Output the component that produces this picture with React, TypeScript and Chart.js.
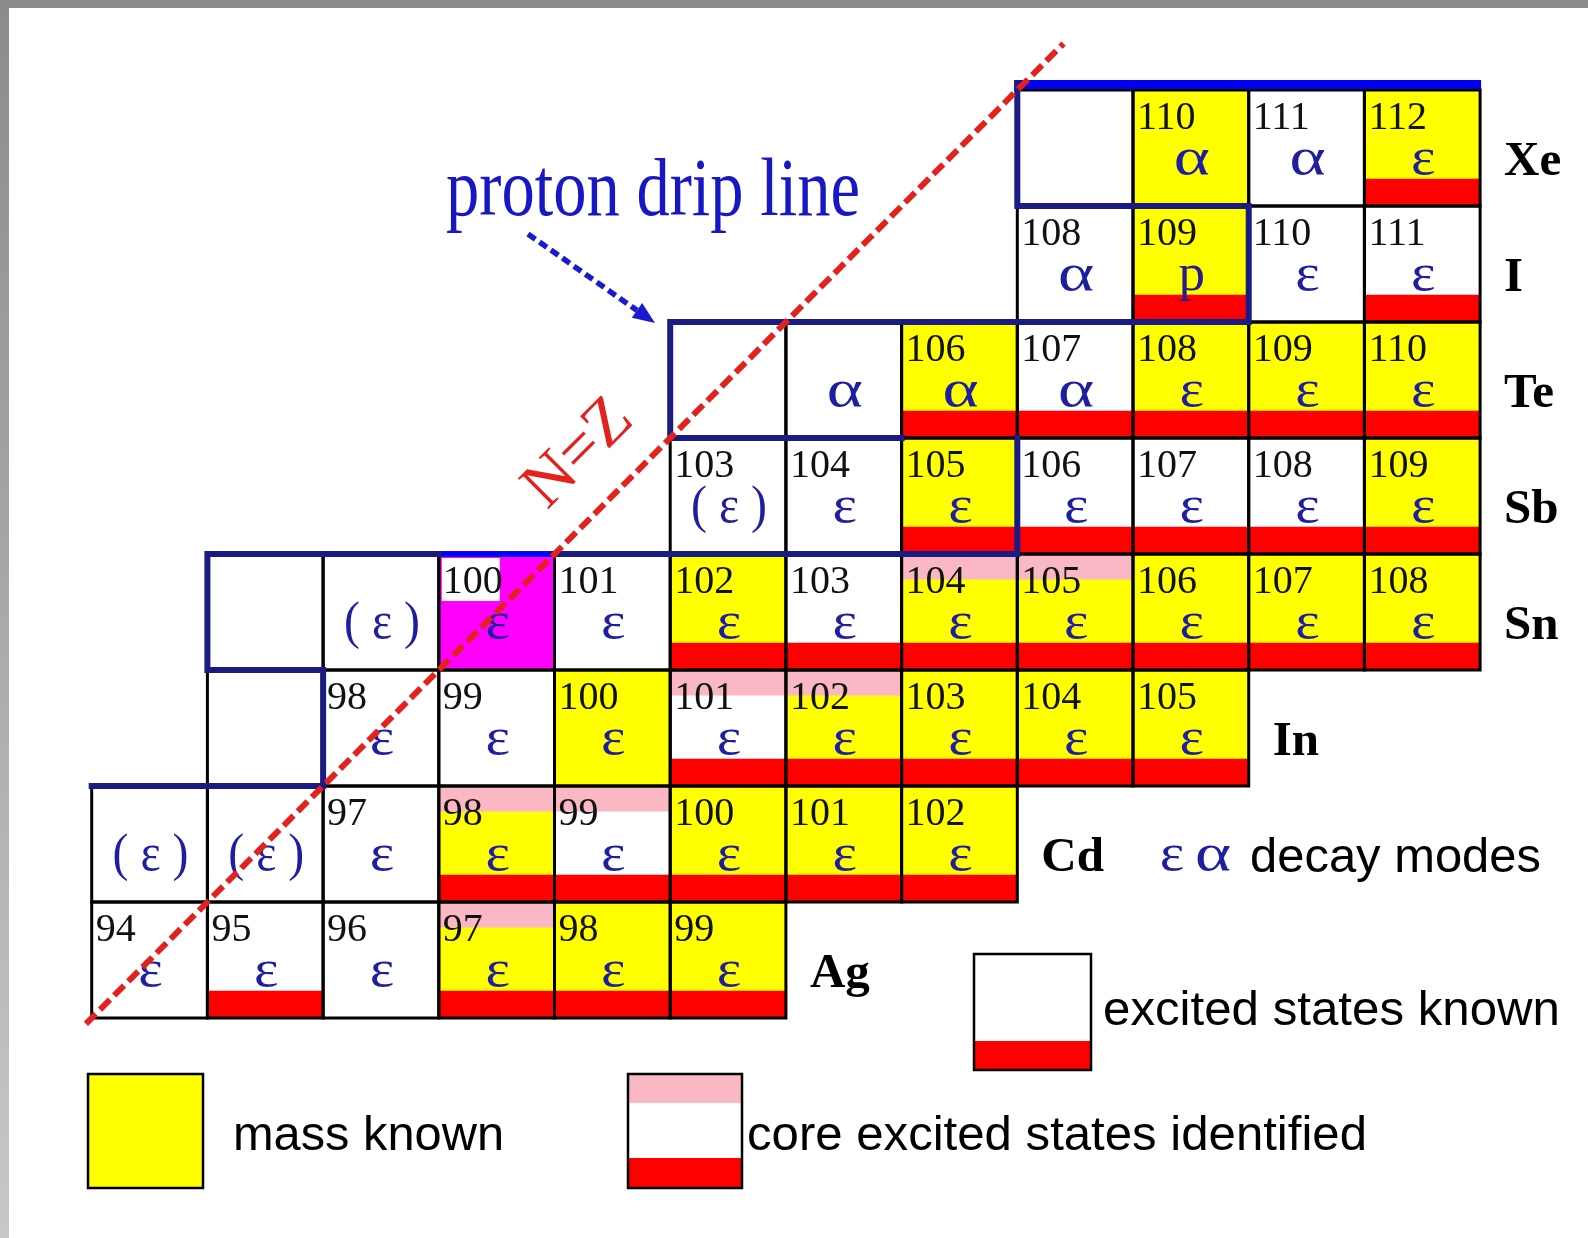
import React, { useEffect, useRef } from "react";
import { Chart, registerables } from "chart.js";

Chart.register(...registerables);

// ---- data -------------------------------------------------------------
// rows: proton number Z (element), columns: neutron number N
const elementSymbols = ["Ag", "Cd", "In", "Sn", "Sb", "Te", "I", "Xe"];
const protonNumbers = [47, 48, 49, 50, 51, 52, 53, 54];
const firstNeutron = [47, 47, 48, 48, 52, 52, 55, 55];

// mass number shown in the cell (null = no label)
const massNumbers: (number | null)[][] = [
  [94, 95, 96, 97, 98, 99],
  [null, null, 97, 98, 99, 100, 101, 102],
  [null, 98, 99, 100, 101, 102, 103, 104, 105],
  [null, null, 100, 101, 102, 103, 104, 105, 106, 107, 108],
  [103, 104, 105, 106, 107, 108, 109],
  [null, null, 106, 107, 108, 109, 110],
  [108, 109, 110, 111],
  [null, 110, 111, 112],
];

// decay mode
const decayModes: string[][] = [
  ["ε", "ε", "ε", "ε", "ε", "ε"],
  ["(ε)", "(ε)", "ε", "ε", "ε", "ε", "ε", "ε"],
  ["", "ε", "ε", "ε", "ε", "ε", "ε", "ε", "ε"],
  ["", "(ε)", "ε", "ε", "ε", "ε", "ε", "ε", "ε", "ε", "ε"],
  ["(ε)", "ε", "ε", "ε", "ε", "ε", "ε"],
  ["", "α", "α", "α", "ε", "ε", "ε"],
  ["α", "p", "ε", "ε"],
  ["", "α", "α", "ε"],
];

// mass known: w = no, y = yes, m = highlighted (100Sn)
const massKnown: string[] = [
  "wwwyyy",
  "wwwywyyy",
  "wwwywyyyy",
  "wwmwywyyyyy",
  "wwywwwy",
  "wwywyyy",
  "wyww",
  "wywy",
];

// excited states known (red bar)
const excitedKnown: number[][] = [
  [0, 1, 0, 1, 1, 1],
  [0, 0, 0, 1, 1, 1, 1, 1],
  [0, 0, 0, 0, 1, 1, 1, 1, 1],
  [0, 0, 0, 0, 1, 1, 1, 1, 1, 1, 1],
  [0, 0, 1, 1, 1, 1, 1],
  [0, 0, 1, 1, 1, 1, 1],
  [0, 1, 0, 1],
  [0, 0, 0, 1],
];

// core excited states identified (pink bar)
const coreExcited: number[][] = [
  [0, 0, 0, 1, 0, 0],
  [0, 0, 0, 1, 1, 0, 0, 0],
  [0, 0, 0, 0, 1, 1, 0, 0, 0],
  [0, 0, 0, 0, 0, 0, 1, 1, 0, 0, 0],
  [0, 0, 0, 0, 0, 0, 0],
  [0, 0, 0, 0, 0, 0, 0],
  [0, 0, 0, 0],
  [0, 0, 0, 0],
];

// N = Z line ends
const nEqualsZ = [46.45, 54.9];

// proton drip line (cell corner coordinates N, Z)
const dripLineParts: number[][][] = [
  [[46.5, 48.5], [48.5, 48.5], [48.5, 49.5], [47.5, 49.5], [47.5, 50.5], [54.5, 50.5], [54.5, 51.5]],
  [[53.5, 51.5], [51.5, 51.5], [51.5, 52.5], [56.5, 52.5], [56.5, 53.5], [54.5, 53.5], [54.5, 54.5]],
];
const dripLineTop = [[54.5, 54.5], [58.5, 54.5]];

// ---- view -------------------------------------------------------------
const X_MIN = 45.7074;
const X_MAX = 59.4325;
const Y_MIN = 44.6035;
const Y_MAX = 55.2759;

const W = 1588;
const H = 1238;

const SERIF = "'Liberation Serif', 'Times New Roman', serif";
const SANS = "'Liberation Sans', Arial, sans-serif";
const SYMBOL_BLUE = "#1e1ea2";
const NAVY = "#1b1b84";

function fitText(ctx: CanvasRenderingContext2D, text: string, x: number, y: number, font: string, width: number, color: string) {
  ctx.save();
  ctx.font = font;
  const m = ctx.measureText(text).width;
  ctx.translate(x, y);
  ctx.scale(width / m, 1);
  ctx.fillStyle = color;
  ctx.textAlign = "left";
  ctx.textBaseline = "alphabetic";
  ctx.fillText(text, 0, 0);
  ctx.restore();
}

function drawSymbol(ctx: CanvasRenderingContext2D, s: string, cx: number, base: number, color: string) {
  ctx.save();
  ctx.font = `53px ${SERIF}`;
  ctx.fillStyle = color;
  ctx.textAlign = "center";
  ctx.textBaseline = "alphabetic";
  ctx.translate(cx, base);
  const sx = s === "α" ? 1.3 : s === "ε" ? 1.1 : 1;
  ctx.scale(sx, 1);
  ctx.fillText(s, 0, 0);
  ctx.restore();
}

const nuclidePlugin = {
  id: "nuclideChart",
  beforeDraw(chart: any) {
    const ctx: CanvasRenderingContext2D = chart.ctx;
    ctx.save();
    ctx.fillStyle = "#ffffff";
    ctx.fillRect(0, 0, W, H);
    const g = ctx.createLinearGradient(0, 0, 0, H);
    g.addColorStop(0, "#8b8b8b");
    g.addColorStop(1, "#c8c8c8");
    ctx.fillStyle = g;
    ctx.fillRect(0, 0, 9, H);
    ctx.fillStyle = "#8b8b8b";
    ctx.fillRect(0, 0, W, 8);
    ctx.restore();
  },
  beforeDatasetsDraw(chart: any) {
    const ctx: CanvasRenderingContext2D = chart.ctx;
    const xs = chart.scales.x;
    const ys = chart.scales.y;
    const px = (v: number) => xs.getPixelForValue(v);
    const py = (v: number) => ys.getPixelForValue(v);
    const cells: any[] = [];
    protonNumbers.forEach((Z, i) => {
      massNumbers[i].forEach((A, j) => {
        const N = firstNeutron[i] + j;
        const l = px(N - 0.5), r = px(N + 0.5), t = py(Z + 0.5), b = py(Z - 0.5);
        cells.push({ l, r, t, b, w: r - l, h: b - t, A, mode: decayModes[i][j], fill: massKnown[i][j], red: excitedKnown[i][j], pink: coreExcited[i][j] });
      });
    });
    ctx.save();
    // fills
    for (const c of cells) {
      ctx.fillStyle = c.fill === "y" ? "#ffff00" : c.fill === "m" ? "#ff00ff" : "#ffffff";
      ctx.fillRect(c.l, c.t, c.w, c.h);
      if (c.fill === "m") {
        ctx.fillStyle = "#ffffff";
        ctx.fillRect(c.l + 3, c.t + 4, 58, 43);
      }
      if (c.pink) {
        ctx.fillStyle = "#f9b8c3";
        ctx.fillRect(c.l, c.t, c.w, c.h * 0.22);
      }
      if (c.red) {
        ctx.fillStyle = "#ff0000";
        ctx.fillRect(c.l, c.b - c.h * 0.235, c.w, c.h * 0.235);
      }
    }
    // borders
    ctx.strokeStyle = "#000000";
    ctx.lineWidth = 3;
    for (const c of cells) ctx.strokeRect(c.l, c.t, c.w, c.h);
    // labels
    for (const c of cells) {
      if (c.A !== null) {
        ctx.font = `40px ${SERIF}`;
        ctx.fillStyle = "#111111";
        ctx.textAlign = "left";
        ctx.textBaseline = "alphabetic";
        ctx.fillText(String(c.A), c.l + 4, c.t + 39);
      }
      if (c.mode) {
        const cx = c.l + c.w / 2 + 1;
        const base = c.t + 84;
        if (c.mode === "(ε)") {
          fitText(ctx, "( ε )", cx - 38, base, `53px ${SERIF}`, 76, SYMBOL_BLUE);
        } else {
          drawSymbol(ctx, c.mode, cx, base, c.mode === "p" ? "#2a1a8e" : SYMBOL_BLUE);
        }
      }
    }
    // element labels
    protonNumbers.forEach((Z, i) => {
      const lastN = firstNeutron[i] + massNumbers[i].length - 1;
      ctx.font = `bold 49px ${SERIF}`;
      ctx.fillStyle = "#000000";
      ctx.textAlign = "left";
      ctx.textBaseline = "alphabetic";
      ctx.fillText(elementSymbols[i], px(lastN + 0.5) + 24, py(Z) + 27);
    });
    // proton drip line boundary
    ctx.strokeStyle = NAVY;
    ctx.lineWidth = 6;
    ctx.lineJoin = "miter";
    ctx.lineCap = "square";
    for (const part of dripLineParts) {
      ctx.beginPath();
      part.forEach(([n, z], k) => {
        if (k === 0) ctx.moveTo(px(n), py(z));
        else ctx.lineTo(px(n), py(z));
      });
      ctx.stroke();
    }
    // bright blue segment over 100Sn
    ctx.strokeStyle = "#0000ff";
    ctx.lineWidth = 5;
    ctx.lineCap = "butt";
    ctx.beginPath();
    ctx.moveTo(px(49.5) + 3, py(50.5));
    ctx.lineTo(px(50.5), py(50.5));
    ctx.stroke();
    // bright blue top bar
    const x0 = px(dripLineTop[0][0]) - 3;
    const x1 = px(dripLineTop[1][0]) + 1;
    const yt = py(dripLineTop[0][1]);
    ctx.fillStyle = "#0000ee";
    ctx.fillRect(x0, yt - 10, x1 - x0, 9);
    ctx.fillStyle = NAVY;
    ctx.fillRect(x0, yt - 10, 6, 12);
    ctx.restore();
  },
  afterDatasetsDraw(chart: any) {
    const ctx: CanvasRenderingContext2D = chart.ctx;
    ctx.save();
    // proton drip line title
    fitText(ctx, "proton drip line", 446, 215, `82px ${SERIF}`, 414, "#1717c6");
    // dashed arrow
    const ax0 = 528, ay0 = 234, ax1 = 655, ay1 = 323;
    const ang = Math.atan2(ay1 - ay0, ax1 - ax0);
    const hl = 22, hw = 9;
    const bx = ax1 - hl * Math.cos(ang), by = ay1 - hl * Math.sin(ang);
    ctx.strokeStyle = "#1a1ad0";
    ctx.lineWidth = 5.5;
    ctx.setLineDash([9, 5]);
    ctx.lineCap = "butt";
    ctx.beginPath();
    ctx.moveTo(ax0, ay0);
    ctx.lineTo(bx, by);
    ctx.stroke();
    ctx.setLineDash([]);
    ctx.fillStyle = "#1a1ad0";
    ctx.beginPath();
    ctx.moveTo(ax1, ay1);
    ctx.lineTo(bx + hw * Math.sin(ang), by - hw * Math.cos(ang));
    ctx.lineTo(bx - hw * Math.sin(ang), by + hw * Math.cos(ang));
    ctx.closePath();
    ctx.fill();
    // N=Z label
    ctx.save();
    ctx.translate(579, 454);
    ctx.rotate(-Math.PI / 4);
    ctx.font = `66px ${SERIF}`;
    ctx.fillStyle = "#e3221e";
    ctx.textAlign = "center";
    ctx.textBaseline = "middle";
    ctx.fillText("N=Z", 0, 0);
    ctx.restore();
    // legend: decay modes
    drawSymbol(ctx, "ε", 1172, 870, SYMBOL_BLUE);
    drawSymbol(ctx, "α", 1213, 870, SYMBOL_BLUE);
    fitText(ctx, "decay modes", 1250, 872, `49px ${SANS}`, 291, "#000000");
    // legend: excited states known
    ctx.lineWidth = 2.5;
    ctx.strokeStyle = "#000000";
    ctx.fillStyle = "#ffffff";
    ctx.fillRect(974, 954, 117, 116);
    ctx.fillStyle = "#ff0000";
    ctx.fillRect(974, 1041, 117, 29);
    ctx.strokeRect(974, 954, 117, 116);
    fitText(ctx, "excited states known", 1103, 1025, `49px ${SANS}`, 457, "#000000");
    // legend: mass known
    ctx.fillStyle = "#ffff00";
    ctx.fillRect(88, 1074, 115, 114);
    ctx.strokeRect(88, 1074, 115, 114);
    fitText(ctx, "mass known", 233, 1150, `49px ${SANS}`, 271, "#000000");
    // legend: core excited states identified
    ctx.fillStyle = "#ffffff";
    ctx.fillRect(628, 1074, 114, 114);
    ctx.fillStyle = "#f9b8c3";
    ctx.fillRect(628, 1074, 114, 29);
    ctx.fillStyle = "#ff0000";
    ctx.fillRect(628, 1158, 114, 30);
    ctx.strokeRect(628, 1074, 114, 114);
    fitText(ctx, "core excited states identified", 747, 1150, `49px ${SANS}`, 620, "#000000");
    ctx.restore();
  },
};

export default function App() {
  const ref = useRef<HTMLCanvasElement | null>(null);
  useEffect(() => {
    if (!ref.current) return;
    const chart = new Chart(ref.current, {
      type: "scatter",
      data: {
        datasets: [
          {
            label: "N=Z",
            data: nEqualsZ.map((v) => ({ x: v, y: v })),
            showLine: true,
            borderColor: "#e3221e",
            borderWidth: 6,
            borderDash: [14, 6],
            borderCapStyle: "butt",
            pointRadius: 0,
            pointHoverRadius: 0,
            fill: false,
          } as any,
        ],
      },
      options: {
        responsive: false,
        maintainAspectRatio: false,
        animation: false,
        devicePixelRatio: 1,
        events: [],
        layout: { padding: 0 },
        plugins: { legend: { display: false }, tooltip: { enabled: false }, title: { display: false } },
        scales: {
          x: { type: "linear", min: X_MIN, max: X_MAX, display: false },
          y: { type: "linear", min: Y_MIN, max: Y_MAX, display: false },
        },
      },
      plugins: [nuclidePlugin],
    });
    return () => chart.destroy();
  }, []);
  return (
    <div style={{ position: "fixed", left: 0, top: 0, width: W, height: H, background: "#ffffff", overflow: "hidden" }}>
      <canvas ref={ref} width={W} height={H} style={{ display: "block", width: W, height: H }} />
    </div>
  );
}
